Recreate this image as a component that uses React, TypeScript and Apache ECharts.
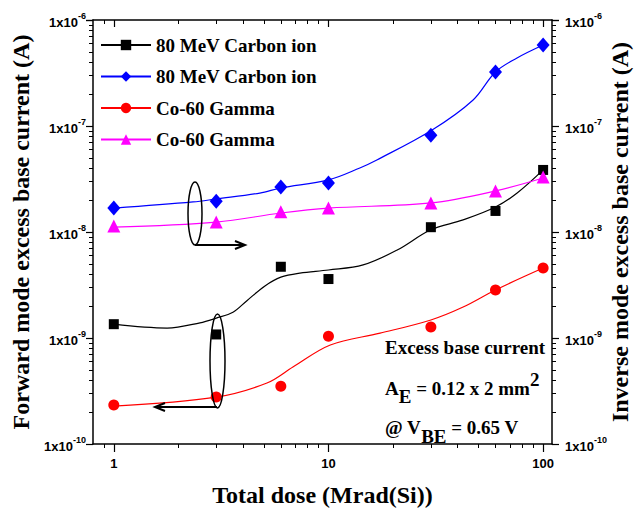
import React, { useEffect, useRef } from 'react';
import * as echarts from 'echarts';

// ---- data ----
const doseMajorTicks = [1, 10, 100];
const doseMinorTicks = [0.9, 2, 3, 4, 5, 6, 7, 8, 9, 20, 30, 40, 50, 60, 70, 80, 90];
const dose = [1, 3, 6, 10, 30, 60, 100];

const carbonForward = [1.35e-9, 1.08e-9, 4.7e-9, 3.6e-9, 1.11e-8, 1.58e-8, 3.85e-8];
const carbonInverse = [1.68e-8, 1.95e-8, 2.66e-8, 2.9e-8, 8.2e-8, 3.23e-7, 5.8e-7];
const gammaForward = [2.33e-10, 2.77e-10, 3.5e-10, 1.04e-9, 1.27e-9, 2.84e-9, 4.57e-9];
const gammaInverse = [1.14e-8, 1.24e-8, 1.55e-8, 1.68e-8, 1.88e-8, 2.44e-8, 3.3e-8];

// fitted curves
const carbonForwardFitX = [1, 1.77, 2.52, 3.0, 3.59, 4.17, 5.06, 6.0, 7.36, 10, 14.5, 20.9, 30, 42.4, 60, 75.7, 100];
const carbonForwardFitY = [1.35e-9, 1.24e-9, 1.39e-9, 1.54e-9, 1.75e-9, 2.25e-9, 3.1e-9, 3.75e-9, 4.1e-9, 4.38e-9, 4.89e-9, 6.76e-9, 1.05e-8, 1.3e-8, 1.72e-8, 2.33e-8, 3.85e-8];
const carbonInverseFitX = [1, 2.34, 3, 4.79, 6, 10, 14, 16.8, 30.4, 47.2, 60, 75.6, 100];
const carbonInverseFitY = [1.68e-8, 1.92e-8, 2.05e-8, 2.33e-8, 2.6e-8, 3.1e-8, 4.02e-8, 4.78e-8, 9.17e-8, 1.76e-7, 3.23e-7, 4.38e-7, 5.8e-7];
const gammaForwardFitX = [1, 3, 5.17, 6.83, 10.2, 17.4, 30, 42.4, 60, 100];
const gammaForwardFitY = [2.28e-10, 2.77e-10, 3.76e-10, 5.32e-10, 8.59e-10, 1.11e-9, 1.48e-9, 1.96e-9, 2.84e-9, 4.57e-9];
const gammaInverseFitX = [1, 3, 6, 10, 30, 60, 100];
const gammaInverseFitY = [1.11e-8, 1.24e-8, 1.51e-8, 1.68e-8, 1.88e-8, 2.44e-8, 3.23e-8];

const legendLabels: Record<string, string> = {
  cf: '80 MeV Carbon ion',
  ci: '80 MeV Carbon ion',
  gf: 'Co-60 Gamma',
  gi: 'Co-60 Gamma',
};

const rightAxisTitle = 'Inverse mode excess base current (A)';

const SERIF = 'Liberation Serif';
const SANS = 'Liberation Sans';

const pairs = (xs: number[], ys: number[]) => xs.map((x, i) => [x, ys[i]]);

const expLabel = (v: number) => {
  const e = Math.round(Math.log10(v));
  return `{b|1x10}{s|${e}}`;
};
const expRich = {
  b: { fontFamily: SANS, fontSize: 13, fontWeight: 'bold', color: '#000', lineHeight: 18, verticalAlign: 'bottom' },
  s: { fontFamily: SANS, fontSize: 9, fontWeight: 'bold', color: '#000', lineHeight: 9, verticalAlign: 'top' },
};

const X_MIN = 0.8;
const X_MAX = 110;
const Y_MIN = 1e-10;
const Y_MAX = 1e-6;

const baseX = {
  type: 'log' as const,
  logBase: 10,
  min: X_MIN,
  max: X_MAX,
  gridIndex: 0,
  splitLine: { show: false },
};

const yAxisCommon = (position: 'left' | 'right', name: string, gap: number, margin: number) => ({
  type: 'log' as const,
  logBase: 10,
  min: Y_MIN,
  max: Y_MAX,
  position,
  name,
  nameLocation: 'middle',
  nameRotate: 90,
  nameGap: gap,
  nameTextStyle: { fontFamily: SERIF, fontWeight: 'bold', fontSize: 24, color: '#000' },
  axisLine: { show: true, lineStyle: { color: '#000', width: 1.5 } },
  axisTick: { show: true, inside: false, length: 7, lineStyle: { color: '#000', width: 1.2 } },
  minorTick: { show: true, splitNumber: 9, length: 4, lineStyle: { color: '#000', width: 1 } },
  axisLabel: { margin, formatter: expLabel, rich: expRich },
  splitLine: { show: false },
  minorSplitLine: { show: false },
});

const fitSeries = (name: string, data: number[][], color: string, symbol: string, yAxisIndex: number) => ({
  name,
  type: 'line',
  xAxisIndex: 0,
  yAxisIndex,
  data,
  smooth: 0.35,
  showSymbol: false,
  symbol,
  symbolSize: 11,
  lineStyle: { color, width: 1.2 },
  itemStyle: { color },
  z: 2,
});

const pointSeries = (name: string, ys: number[], color: string, symbol: string, size: number | number[], yAxisIndex: number) => ({
  name,
  type: 'scatter',
  xAxisIndex: 0,
  yAxisIndex,
  data: pairs(dose, ys),
  symbol,
  symbolSize: size,
  itemStyle: { color, opacity: 1 },
  z: 3,
});

const rich2 = {
  n: { fontFamily: SERIF, fontWeight: 'bold', fontSize: 19, fill: '#000', lineHeight: 36, verticalAlign: 'middle' },
  sub: { fontFamily: SERIF, fontWeight: 'bold', fontSize: 19, fill: '#000', lineHeight: 18, verticalAlign: 'bottom' },
  sup: { fontFamily: SERIF, fontWeight: 'bold', fontSize: 19, fill: '#000', lineHeight: 4, verticalAlign: 'top' },
};

const option = {
  animation: false,
  backgroundColor: '#fff',
  grid: { left: 93, right: 82, top: 20, bottom: 66, containLabel: false, outerBoundsMode: 'none' },
  legend: {
    orient: 'vertical',
    left: 95,
    top: 30,
    itemWidth: 50,
    itemHeight: 13,
    itemGap: 11.5,
    data: ['cf', 'ci', 'gf', 'gi'],
    formatter: (n: string) => legendLabels[n],
    textStyle: { fontFamily: SERIF, fontWeight: 'bold', fontSize: 19, color: '#000', lineHeight: 20 },
    selectedMode: false,
  },
  xAxis: [
    {
      ...baseX,
      position: 'bottom',
      name: 'Total dose (Mrad(Si))',
      nameLocation: 'middle',
      nameGap: 39,
      nameTextStyle: { fontFamily: SERIF, fontWeight: 'bold', fontSize: 24, color: '#000' },
      axisLine: { show: true, onZero: false, lineStyle: { color: '#000', width: 1.5 } },
      axisTick: { show: true, inside: false, length: 8, customValues: doseMajorTicks, lineStyle: { color: '#000', width: 1.2 } },
      axisLabel: {
        margin: 13,
        customValues: doseMajorTicks,
        fontFamily: SANS,
        fontWeight: 'bold',
        fontSize: 13,
        color: '#000',
        formatter: (v: number) => (doseMajorTicks.some((t) => Math.abs(t - v) < 1e-6 * t) ? String(Math.round(v)) : ''),
      },
    },
    {
      ...baseX,
      position: 'bottom',
      axisLine: { show: false, onZero: false },
      axisTick: { show: true, inside: false, length: 4, customValues: doseMinorTicks, lineStyle: { color: '#000', width: 1 } },
      axisLabel: { show: false },
    },
    {
      ...baseX,
      position: 'top',
      axisLine: { show: true, onZero: false, lineStyle: { color: '#000', width: 1.5 } },
      axisTick: { show: true, inside: true, length: 7, customValues: doseMajorTicks, lineStyle: { color: '#000', width: 1.2 } },
      axisLabel: { show: false },
    },
    {
      ...baseX,
      position: 'top',
      axisLine: { show: false, onZero: false },
      axisTick: { show: true, inside: true, length: 4, customValues: doseMinorTicks, lineStyle: { color: '#000', width: 1 } },
      axisLabel: { show: false },
    },
  ],
  yAxis: [
    yAxisCommon('left', 'Forward mode excess base current (A)', 58, 7),
    { ...yAxisCommon('right', '', 51, 13), name: '' },
  ],
  series: [
    fitSeries('cf', pairs(carbonForwardFitX, carbonForwardFitY), '#000000', 'rect', 0),
    fitSeries('ci', pairs(carbonInverseFitX, carbonInverseFitY), '#0000ff', 'diamond', 1),
    fitSeries('gf', pairs(gammaForwardFitX, gammaForwardFitY), '#ff0000', 'circle', 0),
    fitSeries('gi', pairs(gammaInverseFitX, gammaInverseFitY), '#ff00ff', 'triangle', 1),
    pointSeries('cf-pts', carbonForward, '#000000', 'rect', 10, 0),
    pointSeries('ci-pts', carbonInverse, '#0000ff', 'diamond', [13, 15], 1),
    pointSeries('gf-pts', gammaForward, '#ff0000', 'circle', 11, 0),
    pointSeries('gi-pts', gammaInverse, '#ff00ff', 'triangle', 13, 1),
  ],
  graphic: [
    // right axis title
    {
      type: 'text',
      x: 620,
      y: 232,
      rotation: Math.PI / 2,
      style: {
        text: rightAxisTitle,
        fontFamily: SERIF,
        fontWeight: 'bold',
        fontSize: 24,
        fill: '#000',
        align: 'center',
        verticalAlign: 'middle',
      },
    },
    // annotation texts
    {
      type: 'text',
      left: 385,
      top: 338,
      style: { text: 'Excess base current', fontFamily: SERIF, fontWeight: 'bold', fontSize: 19, fill: '#000' },
    },
    {
      type: 'text',
      left: 385,
      top: 370,
      style: { text: '{n|A}{sub|E}{n| = 0.12 x 2 mm}{sup|2}', rich: rich2 },
    },
    {
      type: 'text',
      left: 385,
      top: 418,
      style: { text: '{n|@ V}{sub|BE}{n| = 0.65 V}', rich: rich2 },
    },
    // upper ellipse + arrow to the right
    {
      type: 'ellipse',
      shape: { cx: 195, cy: 213.5, rx: 7, ry: 31.5 },
      style: { fill: 'none', stroke: '#000', lineWidth: 1.5 },
      z: 10,
    },
    {
      type: 'line',
      shape: { x1: 195, y1: 245, x2: 244, y2: 245 },
      style: { stroke: '#000', lineWidth: 2 },
      z: 10,
    },
    {
      type: 'polyline',
      shape: { points: [[235, 241], [245, 245], [235, 249]] },
      style: { fill: 'none', stroke: '#000', lineWidth: 2 },
      z: 10,
    },
    // lower ellipse + arrow to the left
    {
      type: 'ellipse',
      shape: { cx: 217.5, cy: 361, rx: 7.5, ry: 47 },
      style: { fill: 'none', stroke: '#000', lineWidth: 1.5 },
      z: 10,
    },
    {
      type: 'line',
      shape: { x1: 217, y1: 407, x2: 156, y2: 407 },
      style: { stroke: '#000', lineWidth: 2 },
      z: 10,
    },
    {
      type: 'polyline',
      shape: { points: [[165, 403], [155, 407], [165, 411]] },
      style: { fill: 'none', stroke: '#000', lineWidth: 2 },
      z: 10,
    },
  ],
};

export default function App() {
  const ref = useRef<HTMLDivElement>(null);
  useEffect(() => {
    const chart = echarts.init(ref.current!, null, { renderer: 'svg' });
    chart.setOption(option as any);
    return () => chart.dispose();
  }, []);
  return <div ref={ref} style={{ position: 'fixed', left: 0, top: 0, width: 634, height: 510 }} />;
}
